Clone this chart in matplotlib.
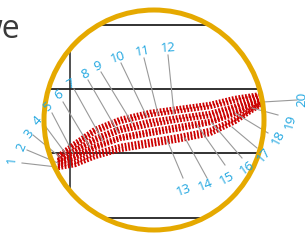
import matplotlib
matplotlib.use("Agg")
import matplotlib.pyplot as plt
from matplotlib.patches import Circle

# --- 数据：曲线束（x 站点 + 每条曲线的 y 值，像素坐标）---
curve_x = [58, 75, 95, 120, 150, 180, 210, 235, 262]
curve_a1 = [156, 143, 129, 119, 112, 108, 104, 98, 94]
curve_a2 = [157, 146, 132, 122, 115, 111, 107, 101, 95]
curve_b1 = [160, 150, 138, 128, 121, 117, 113, 106, 97]
curve_b2 = [161, 152, 141, 131, 125, 120, 116, 108, 98]
curve_c1 = [163, 156, 146, 137, 131, 126, 121, 112, 100]
curve_c2 = [164, 158, 148, 139, 134, 129, 123, 114, 101]
curve_d1 = [166, 162, 153, 146, 141, 136, 130, 119, 103]
curve_d2 = [168, 165, 157, 150, 145, 140, 134, 122, 104]
curves = [curve_a1, curve_a2, curve_b1, curve_b2,
          curve_c1, curve_c2, curve_d1, curve_d2]

# --- 标注编号 ---
label_text = [str(i) for i in range(1, 21)]
label_x = [12, 21, 29, 38, 48, 59, 71, 85, 98, 118, 143, 168,
           184, 205, 227, 247, 264, 278, 290, 302]
label_y = [160, 147, 134, 121, 107, 95, 84, 74, 66, 57, 51, 48,
           190, 185, 178, 168, 155, 138, 122, 99]
label_rot = [84, 68, 52, 48, 42, 32, 30, 25, 20, 18, 10, 4,
             20, 22, 28, 35, 50, 62, 75, 88]
lead_x0 = [22, 27, 33, 43, 52, 63, 74, 88, 101, 121, 144, 168,
           183, 207, 225, 242, 257, 268, 278, 297]
lead_y0 = [163, 150, 135, 123, 113, 102, 89, 80, 72, 63, 58, 55,
           178, 178, 165, 158, 148, 133, 115, 100]
lead_x1 = [57, 58, 60, 66, 73, 90, 103, 118, 132, 147, 158, 174,
           167, 185, 197, 212, 232, 235, 252, 263]
lead_y1 = [167, 163, 157, 154, 153, 147, 141, 132, 123, 117, 114, 114,
           140, 138, 125, 123, 127, 113, 108, 102]

# --- 网格线 ---
grid_y = [25, 89, 153, 218]
grid_vx = [70]

W, H = 305, 240
CX, CY, R = 154, 120, 110

fig = plt.figure(figsize=(W / 100, H / 100), dpi=100)
ax = fig.add_axes([0, 0, 1, 1])
ax.set_xlim(0, W)
ax.set_ylim(H, 0)
ax.axis("off")

clip = Circle((CX, CY), R, transform=ax.transData)

for gy in grid_y:
    ln, = ax.plot([0, W], [gy, gy], color="#222222", lw=1.3, zorder=1)
    ln.set_clip_path(clip)
for gx in grid_vx:
    ln, = ax.plot([gx, gx], [0, H], color="#222222", lw=1.1, zorder=1)
    ln.set_clip_path(clip)

# 红色条纹曲线
for ys in curves:
    ln, = ax.plot(curve_x, ys, color="#CC0000", lw=3.2,
                  linestyle=(0, (0.4, 0.35)), solid_capstyle="butt",
                  dash_capstyle="butt", zorder=2)
    ln.set_clip_path(clip)

# 引线
for i in range(len(label_text)):
    ax.plot([lead_x0[i], lead_x1[i]], [lead_y0[i], lead_y1[i]],
            color="#999999", lw=0.8, zorder=3)

# 外圈
ax.add_patch(Circle((CX, CY), R, fill=False, edgecolor="#E5A900", lw=3.6, zorder=4))

for i, t in enumerate(label_text):
    ax.text(label_x[i], label_y[i], t, color="#1FA6E0", fontsize=9.5,
            family="Open Sans", rotation=label_rot[i], rotation_mode="anchor",
            ha="center", va="center", zorder=5)

ax.text(20.5, 37.5, "we", color="#3A3A3A", fontsize=23, family="Open Sans",
        ha="right", va="baseline", zorder=5)

fig.savefig("out.png", dpi=100)
